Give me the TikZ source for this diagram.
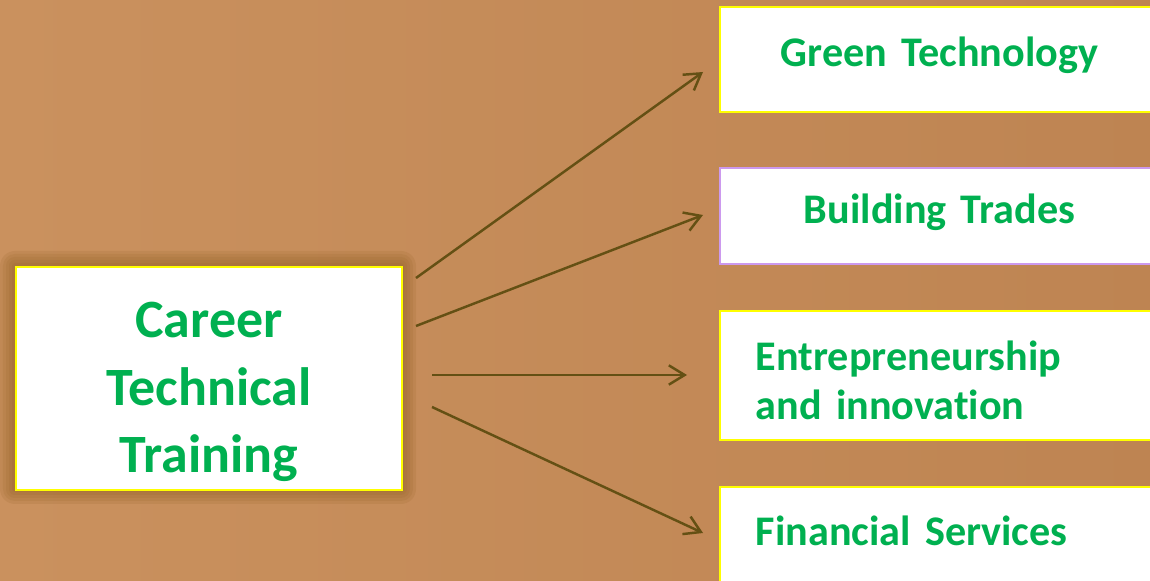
\documentclass[tikz,border=0pt]{standalone}
\usepackage{fontspec}
\setmainfont{Carlito}[Ligatures=CommonOff,WordSpace=0.8]
\usetikzlibrary{arrows.meta}
\definecolor{woodlight}{rgb}{0.792, 0.569, 0.369}
\definecolor{wooddark}{rgb}{0.745, 0.518, 0.322}
\definecolor{glowbrown}{rgb}{0.588, 0.392, 0.157}
\definecolor{textgreen}{rgb}{0.000, 0.690, 0.314}
\definecolor{boxyellow}{rgb}{1.000, 1.000, 0.000}
\definecolor{lavender}{rgb}{0.800, 0.600, 0.933}
\definecolor{arrowbrown}{rgb}{0.392, 0.314, 0.078}

\begin{document}
\begin{tikzpicture}[
  tbox/.style={draw=boxyellow,fill=white,line width=1.1pt,inner xsep=0pt,inner ysep=0pt,text=textgreen,anchor=north west},
  rightbox/.style={tbox,text width=8.78cm,align=center,font={\fontsize{24}{27.9}\selectfont\bfseries}},
  leftbox/.style={rightbox,inner xsep=0.72cm,text width=7.34cm,align=left},
  branch/.style={arrowbrown,line width=1.4pt,-{Straight Barb[length=9pt,width=11pt,line width=1.4pt]}}
]

% page and background
\clip (0,0) rectangle (23,11.6);
\shade [left color=woodlight,right color=wooddark] (0,0) rectangle (23,11.6);

% glow round the main box
\foreach \r in {0.06,0.12,0.18,0.24,0.30}
  \fill [glowbrown,fill opacity=0.16,rounded corners=\r cm] (0.30-\r,1.82-\r) rectangle (8.02+\r,6.28+\r);

% main box
\node [tbox,text width=7.72cm,align=center,text height=1.42cm,text depth=3.04cm,
       font={\fontsize{30.7}{38.4}\selectfont\bfseries}] (career) at (0.30,6.28) {Career\\Technical\\Training};

% branch boxes
\node [rightbox,text height=1.2cm,text depth=0.9cm] (greentech) at (14.38,11.48) {Green Technology};
\node [rightbox,draw=lavender,text height=1.12cm,text depth=0.8cm] (building) at (14.38,8.26) {Building Trades};
\node [leftbox,text height=1.2cm,text depth=1.38cm] (entre) at (14.38,5.40) {Entrepreneurship\\and innovation};
\node [leftbox,text height=1.18cm,text depth=0.9cm] (finance) at (14.38,1.88) {Financial Services};

% arrow ends
\coordinate (a1s) at (8.32,6.04);
\coordinate (a1e) at (14.06,10.16);
\coordinate (a2s) at (8.32,5.08);
\coordinate (a2e) at (14.06,7.30);
\coordinate (a3s) at (8.64,4.10);
\coordinate (a3e) at (13.74,4.10);
\coordinate (a4s) at (8.64,3.46);
\coordinate (a4e) at (14.06,0.94);

% arrows
\draw [branch] (a1s) -- (a1e);
\draw [branch] (a2s) -- (a2e);
\draw [branch] (a3s) -- (a3e);
\draw [branch] (a4s) -- (a4e);
\end{tikzpicture}
\end{document}
